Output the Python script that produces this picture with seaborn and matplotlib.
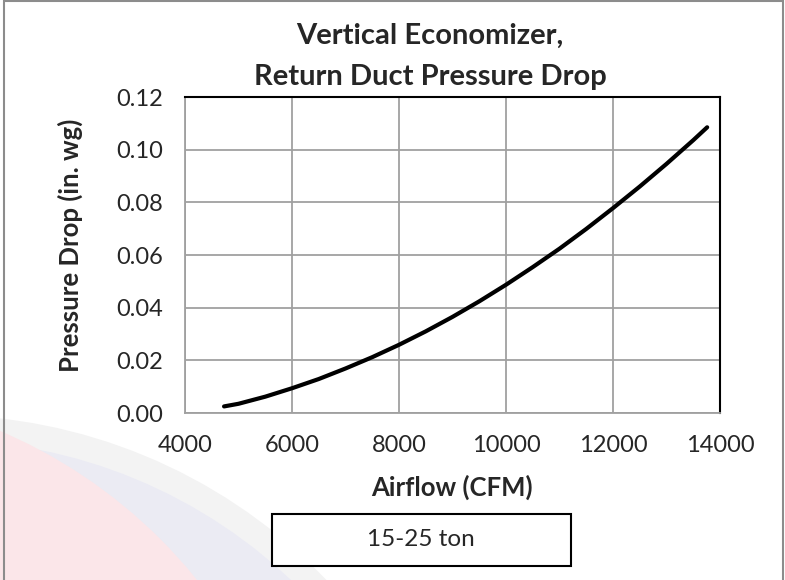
import pandas as pd
import matplotlib.pyplot as plt
import seaborn as sns
from matplotlib.patches import Rectangle, Ellipse

# values
airflow = [4730, 5000, 5500, 6000, 6500, 7000, 7500, 8000, 8500, 9000, 9500,
           10000, 10500, 11000, 11500, 12000, 12500, 13000, 13500, 13760]
pressure_drop = [0.0025, 0.0035, 0.0062, 0.0094, 0.0129, 0.0169, 0.0212, 0.0259,
                 0.0310, 0.0365, 0.0424, 0.0487, 0.0554, 0.0624, 0.0699, 0.0778,
                 0.0860, 0.0946, 0.1036, 0.1085]
series_name = '15-25 ton'
x_ticks = [4000, 6000, 8000, 10000, 12000, 14000]
y_ticks = [0.00, 0.02, 0.04, 0.06, 0.08, 0.10, 0.12]

df = pd.DataFrame({'Airflow (CFM)': airflow, 'Pressure Drop (in. wg)': pressure_drop})

sns.set_style('white')
plt.rcParams['font.family'] = ['Lato', 'DejaVu Sans']

W, H = 785, 580
fig = plt.figure(figsize=(W / 100, H / 100), dpi=100)


def blob(cx, cy, r, color, z):
    # circle given in pixels, drawn in figure coords
    fig.patches.append(Ellipse((cx / W, 1 - cy / H), 2 * r / W, 2 * r / H,
                               transform=fig.transFigure, facecolor=color,
                               edgecolor='none', zorder=z))


# faint logo watermark in the lower left
blob(-60, 950, 535, '#f3f3f3', -5)
blob(-60, 950, 510, '#ebebf3', -4)
blob(-200, 900, 510, '#fbe6e9', -3)

ax = fig.add_axes([185 / W, 1 - 413 / H, 535 / W, 316 / H])
sns.lineplot(data=df, x='Airflow (CFM)', y='Pressure Drop (in. wg)', ax=ax,
             color='black', linewidth=3, label=series_name, legend=False)

ax.set_xlim(4000, 14000)
ax.set_ylim(0, 0.12)
ax.set_xticks(x_ticks)
ax.set_yticks(y_ticks)
ax.set_yticklabels([f'{v:.2f}' for v in y_ticks])
ax.tick_params(axis='both', length=0, labelsize=17, pad=16)
ax.grid(True, color='#a0a0a0', linewidth=1.3)
ax.set_xlabel('')
ax.set_ylabel('')
for side in ['left', 'bottom']:
    ax.spines[side].set_color('#a0a0a0')
    ax.spines[side].set_linewidth(1.3)
for side in ['top', 'right']:
    ax.spines[side].set_color('black')
    ax.spines[side].set_linewidth(1.5)

fig.text(430 / W, 1 - 36 / H, 'Vertical Economizer,', ha='center', va='center',
         fontsize=21, fontweight='bold')
fig.text(430 / W, 1 - 77 / H, 'Return Duct Pressure Drop', ha='center', va='center',
         fontsize=21, fontweight='bold')
fig.text(452 / W, 1 - 487 / H, 'Airflow (CFM)', ha='center', va='center',
         fontsize=18.5, fontweight='bold')
fig.text(70 / W, 1 - 245 / H, 'Pressure Drop (in. wg)', ha='center', va='center',
         rotation=90, fontsize=18.5, fontweight='bold')

# series name box
fig.patches.append(Rectangle((272 / W, 1 - 566 / H), 299 / W, 52 / H, transform=fig.transFigure,
                             facecolor='white', edgecolor='black', linewidth=1.5))
fig.text(421 / W, 1 - 540 / H, series_name, ha='center', va='center', fontsize=17.5)

# outer chart border
fig.patches.append(Rectangle((4 / W, -0.05), 779 / W, 1.05 - 1.5 / H, transform=fig.transFigure,
                             facecolor='none', edgecolor='#8c8c8c', linewidth=1.5))

fig.savefig('out.png', dpi=100)
